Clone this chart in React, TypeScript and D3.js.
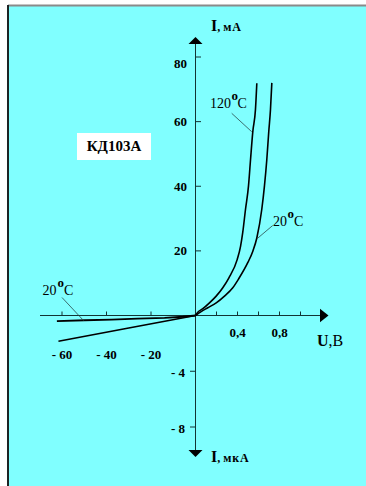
import React from "react";
import * as d3 from "d3";

// Forward branch (U in V, I in mA)
const fwd120V = [0, 0.022, 0.07, 0.133, 0.197, 0.26, 0.317, 0.397, 0.429, 0.45, 0.476, 0.505, 0.524, 0.546, 0.571, 0.584];
const fwd120I = [0, 1.0, 2.1, 3.9, 6.0, 8.6, 11.6, 17.3, 21.4, 25.7, 32.8, 40.2, 48.2, 57.0, 63.7, 71.9];
const fwd20V = [0, 0.054, 0.117, 0.197, 0.276, 0.355, 0.41, 0.5, 0.546, 0.584, 0.631, 0.657, 0.679, 0.698, 0.714, 0.727];
const fwd20I = [0, 1.2, 2.4, 3.9, 6.0, 8.6, 11.3, 16.5, 19.9, 24.0, 32.8, 40.2, 48.2, 57.0, 63.7, 72.0];
// Reverse branch (U in V, I in µA)
const rev20V = [-62.3, -49.7, -37.7, -26, -13.9, -5.7, 0];
const rev20I = [-0.41, -0.34, -0.29, -0.22, -0.17, -0.09, 0];
const rev120V = [-61.6, -30, 0];
const rev120I = [-1.85, -0.9, 0];

const mATicks = [20, 40, 60, 80];
const uATicks = [-4, -8];
const vPosTicks = [0.2, 0.4, 0.6, 0.8, 1.0];
const vPosLabels = [0.4, 0.8];
const vNegTicks = [-60, -40, -20];

const W = 366;
const H = 486;
const FONT = "'Liberation Serif', 'Times New Roman', serif";
const AXIS = "#123434";

export default function App() {
  const xPos = d3.scaleLinear().domain([0, 1]).range([195.5, 300.5]);
  const xNeg = d3.scaleLinear().domain([-60, 0]).range([62, 195.5]);
  const yPos = d3.scaleLinear().domain([0, 80]).range([315.5, 57]);
  const yNeg = d3.scaleLinear().domain([-8, 0]).range([427, 315.5]);

  const mkFwd = (V: number[], I: number[]) =>
    d3
      .line<[number, number]>()
      .x((d) => xPos(d[0]))
      .y((d) => yPos(d[1]))
      .curve(d3.curveMonotoneX)(V.map((v, i) => [v, I[i]] as [number, number])) || "";
  const mkRev = (V: number[], I: number[]) =>
    d3
      .line<[number, number]>()
      .x((d) => xNeg(d[0]))
      .y((d) => yNeg(d[1]))(V.map((v, i) => [v, I[i]] as [number, number])) || "";

  const x0 = xPos(0);
  const y0 = yPos(0);

  return (
    <svg
      width={W}
      height={H}
      style={{ position: "absolute", left: 0, top: 0, display: "block" }}
      fontFamily={FONT}
    >
      <rect x={0} y={0} width={W} height={H} fill="#ffffff" />
      <rect x={8} y={6} width={W - 8} height={H - 6} fill="#80ffff" />
      <line x1={8} x2={W} y1={5.5} y2={5.5} stroke="#8a8a8a" strokeWidth={2} />
      <line x1={8} x2={8} y1={5} y2={H} stroke="#1c2424" strokeWidth={2} />

      {/* axes */}
      <line x1={40} x2={321} y1={y0} y2={y0} stroke={AXIS} strokeWidth={1} />
      <path d={`M320,${y0 - 6.7}L328.5,${y0}L320,${y0 + 6.7}Z`} fill="#000" />
      <line x1={x0} x2={x0} y1={43} y2={451} stroke={AXIS} strokeWidth={1} />
      <path d={`M${x0 - 7},44L${x0},37L${x0 + 7},44Z`} fill="#000" />
      <path d={`M${x0 - 7},450L${x0},457L${x0 + 7},450Z`} fill="#000" />

      {/* ticks */}
      {mATicks.map((t) => (
        <g key={"ma" + t}>
          <line x1={x0} x2={x0 + 5.5} y1={yPos(t)} y2={yPos(t)} stroke={AXIS} />
          <text
            x={187}
            y={yPos(t) + (t === 80 ? 6 : 0)}
            dy="0.35em"
            textAnchor="end"
            fontSize={13}
            fontWeight="bold"
          >
            {t}
          </text>
        </g>
      ))}
      {uATicks.map((t) => (
        <g key={"ua" + t}>
          <line x1={x0 - 5.5} x2={x0} y1={yNeg(t)} y2={yNeg(t)} stroke={AXIS} />
          <text x={185} y={yNeg(t) + 1} dy="0.35em" textAnchor="end" fontSize={13} fontWeight="bold">
            {"- " + Math.abs(t)}
          </text>
        </g>
      ))}
      {vPosTicks.map((t) => (
        <line key={"vp" + t} x1={xPos(t)} x2={xPos(t)} y1={y0 - 4} y2={y0} stroke={AXIS} />
      ))}
      {vPosLabels.map((t) => (
        <text key={"vpl" + t} x={xPos(t)} y={337} textAnchor="middle" fontSize={13} fontWeight="bold">
          {String(t).replace(".", ",")}
        </text>
      ))}
      {vNegTicks.map((t) => (
        <g key={"vn" + t}>
          <line x1={xNeg(t)} x2={xNeg(t)} y1={y0 - 4} y2={y0} stroke={AXIS} />
          <text x={xNeg(t)} y={359} textAnchor="middle" fontSize={13} fontWeight="bold">
            {"- " + Math.abs(t)}
          </text>
        </g>
      ))}

      {/* curves */}
      <path d={mkFwd(fwd120V, fwd120I)} fill="none" stroke="#000" strokeWidth={1.6} />
      <path d={mkFwd(fwd20V, fwd20I)} fill="none" stroke="#000" strokeWidth={1.6} />
      <path d={mkRev(rev20V, rev20I)} fill="none" stroke="#000" strokeWidth={1.8} />
      <path d={mkRev(rev120V, rev120I)} fill="none" stroke="#000" strokeWidth={1.6} />

      {/* axis titles */}
      <text x={211} y={31} fontWeight="bold">
        <tspan fontSize={16}>I</tspan>
        <tspan fontSize={12}>, </tspan>
        <tspan fontSize={12} letterSpacing={0.8}>мА</tspan>
      </text>
      <text x={211} y={462} fontWeight="bold">
        <tspan fontSize={16}>I</tspan>
        <tspan fontSize={12}>, </tspan>
        <tspan fontSize={12} letterSpacing={0.8}>мкА</tspan>
      </text>
      <text x={317} y={346} fontSize={16}>
        <tspan fontWeight="bold">U</tspan>
        <tspan>,В</tspan>
      </text>

      {/* annotations */}
      <text x={210} y={108} fontSize={14}>120</text>
      <text x={231.5} y={100} fontSize={13} fontWeight="bold">o</text>
      <text x={237.5} y={108} fontSize={14}>C</text>
      <line x1={231.7} y1={113.3} x2={251.7} y2={131.7} stroke="#2a4a4a" strokeWidth={0.8} />

      <text x={273} y={226} fontSize={14}>20</text>
      <text x={287.5} y={218} fontSize={13} fontWeight="bold">o</text>
      <text x={294} y={226} fontSize={14}>C</text>
      <line x1={272.7} y1={225.5} x2={257.3} y2={238.5} stroke="#2a4a4a" strokeWidth={0.8} />

      <text x={42.5} y={295} fontSize={14}>20</text>
      <text x={57.5} y={287} fontSize={13} fontWeight="bold">o</text>
      <text x={64} y={295} fontSize={14}>C</text>
      <line x1={62} y1={297.5} x2={83.5} y2={320.5} stroke="#2a4a4a" strokeWidth={0.8} />

      {/* device label */}
      <rect x={77} y={133} width={74} height={27} fill="#ffffff" />
      <text x={114} y={151} textAnchor="middle" fontSize={15} fontWeight="bold">
        КД103А
      </text>
    </svg>
  );
}
